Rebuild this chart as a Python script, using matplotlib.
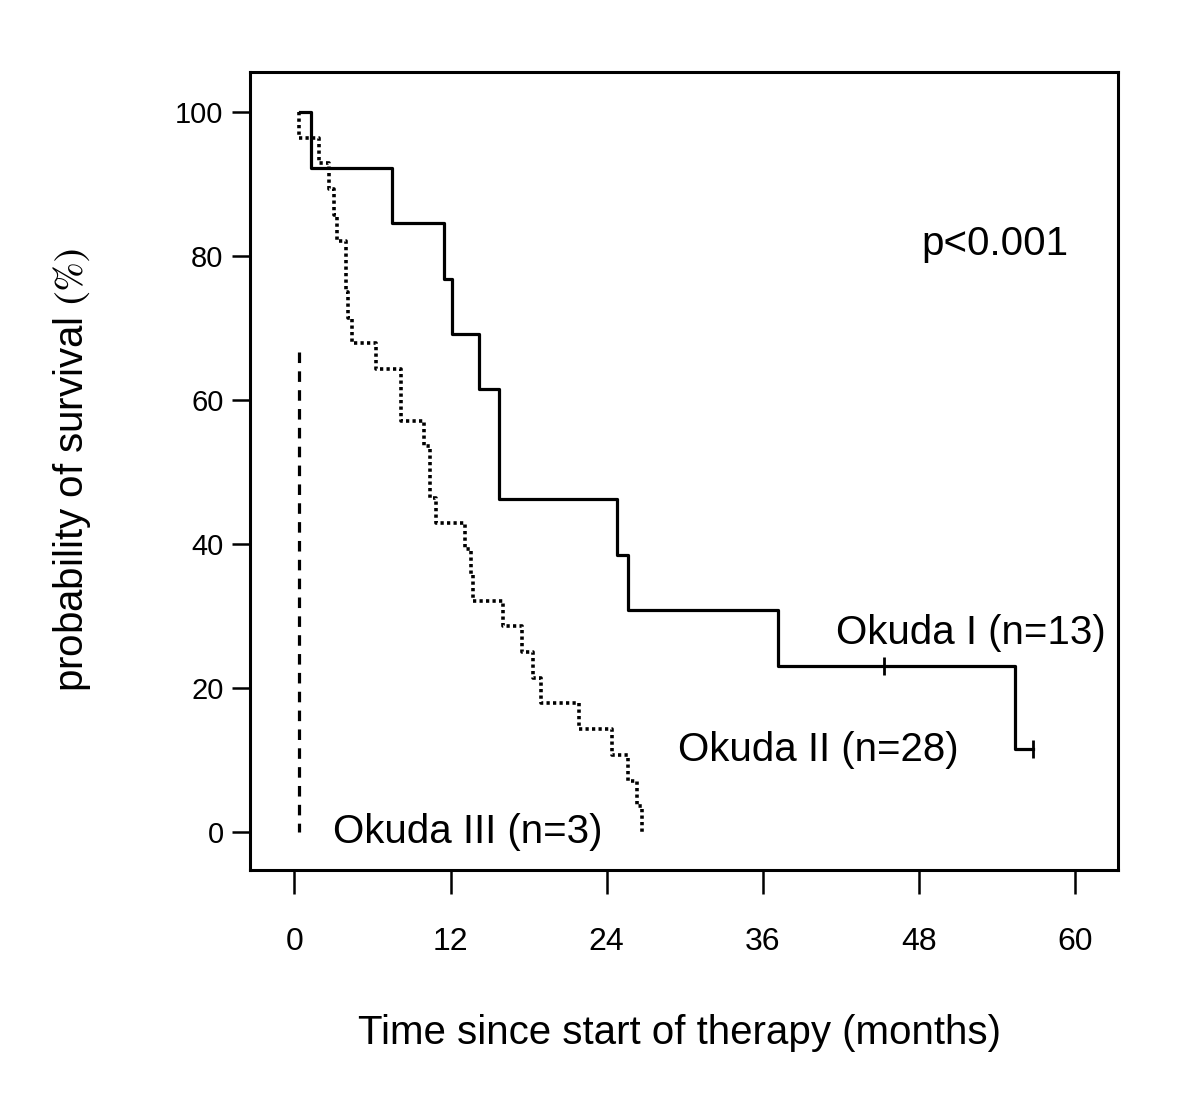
import matplotlib
matplotlib.use("Agg")
import matplotlib.pyplot as plt
from matplotlib import font_manager

# Okuda I (n=13): times where survival changes to the given value
okuda1_times = [0.42, 1.27, 7.5, 11.5, 12.1, 14.2, 15.7, 24.77, 25.6, 37.2, 55.4, 56.8]
okuda1_surv = [100, 92.3, 84.6, 76.9, 69.2, 61.5, 46.2, 38.5, 30.8, 23.1, 11.5, 11.5]
okuda1_censor_t = [45.3, 56.8]
okuda1_censor_s = [23.1, 11.5]

# Okuda II (n=28)
okuda2_times = [0.35, 0.35, 1.88, 2.68, 3.06, 3.29, 3.94, 4.11, 4.42, 6.27, 8.15, 9.99,
                10.42, 10.85, 13.1, 13.55, 13.75, 16.05, 17.5, 18.36, 18.95, 21.9,
                24.43, 25.66, 26.3, 26.7]
okuda2_surv = [100, 96.4, 92.9, 89.3, 85.7, 82.1, 75.0, 71.4, 67.9, 64.3, 57.1, 53.6,
               46.4, 42.9, 39.3, 35.7, 32.1, 28.6, 25.0, 21.4, 17.9, 14.3,
               10.7, 7.1, 3.6, 0]

# Okuda III (n=3)
okuda3_times = [0.35, 0.35]
okuda3_surv = [66.7, 0]

x_ticks = [0, 12, 24, 36, 48, 60]
y_ticks = [0, 20, 40, 60, 80, 100]

installed = {f.name for f in font_manager.fontManager.ttflist}
main_font = "Liberation Sans" if "Liberation Sans" in installed else "DejaVu Sans"
narrow_font = "Liberation Sans Narrow" if "Liberation Sans Narrow" in installed else main_font
plt.rcParams["font.family"] = main_font
plt.rcParams["mathtext.fontset"] = "stix"

fig = plt.figure(figsize=(12, 11.08), dpi=100)
ax = fig.add_axes([250 / 1200, 1 - 870 / 1108, 868 / 1200, 798 / 1108])

ax.step(okuda1_times, okuda1_surv, where="post", color="black", lw=2.3)
ax.plot(okuda1_censor_t, okuda1_censor_s, ls="none", marker="|", ms=13, mew=2, color="black")
ax.step(okuda2_times, okuda2_surv, where="post", color="black", lw=2.6, ls=(0, (0.9, 0.9)))
ax.plot(okuda3_times, okuda3_surv, color="black", lw=2.3, ls=(0, (3.3, 2.6)))

ax.set_xlim(-3.42, 63.3)
ax.set_ylim(-5.28, 105.6)

for s in ax.spines.values():
    s.set_linewidth(2.2)

ax.set_xticks(x_ticks)
ax.set_yticks(y_ticks)
ax.tick_params(axis="x", direction="out", length=17, width=1.8, pad=24)
ax.tick_params(axis="y", direction="out", length=13, width=1.8, pad=6)
for lab in ax.get_xticklabels():
    lab.set_fontfamily(narrow_font)
    lab.set_fontsize(23)
for lab in ax.get_yticklabels():
    lab.set_fontsize(21)

ax.text(48.2, 81.7, "p<0.001", fontsize=29, ha="left", va="center")
ax.text(41.6, 27.6, "Okuda I (n=13)", fontsize=29, ha="left", va="center")
ax.text(29.5, 11.4, "Okuda II (n=28)", fontsize=29, ha="left", va="center")
ax.text(2.95, 0, "Okuda III (n=3)", fontsize=29, ha="left", va="center")

fig.text(680 / 1200, 1 - 1033 / 1108, "Time since start of therapy (months)",
         fontsize=29, ha="center", va="center")
fig.text(72 / 1200, 1 - 470 / 1108, r"probability of survival $\mathrm{(\%)}$",
         fontsize=29, ha="center", va="center", rotation=90)

fig.savefig("out.png", dpi=100, facecolor="white")
